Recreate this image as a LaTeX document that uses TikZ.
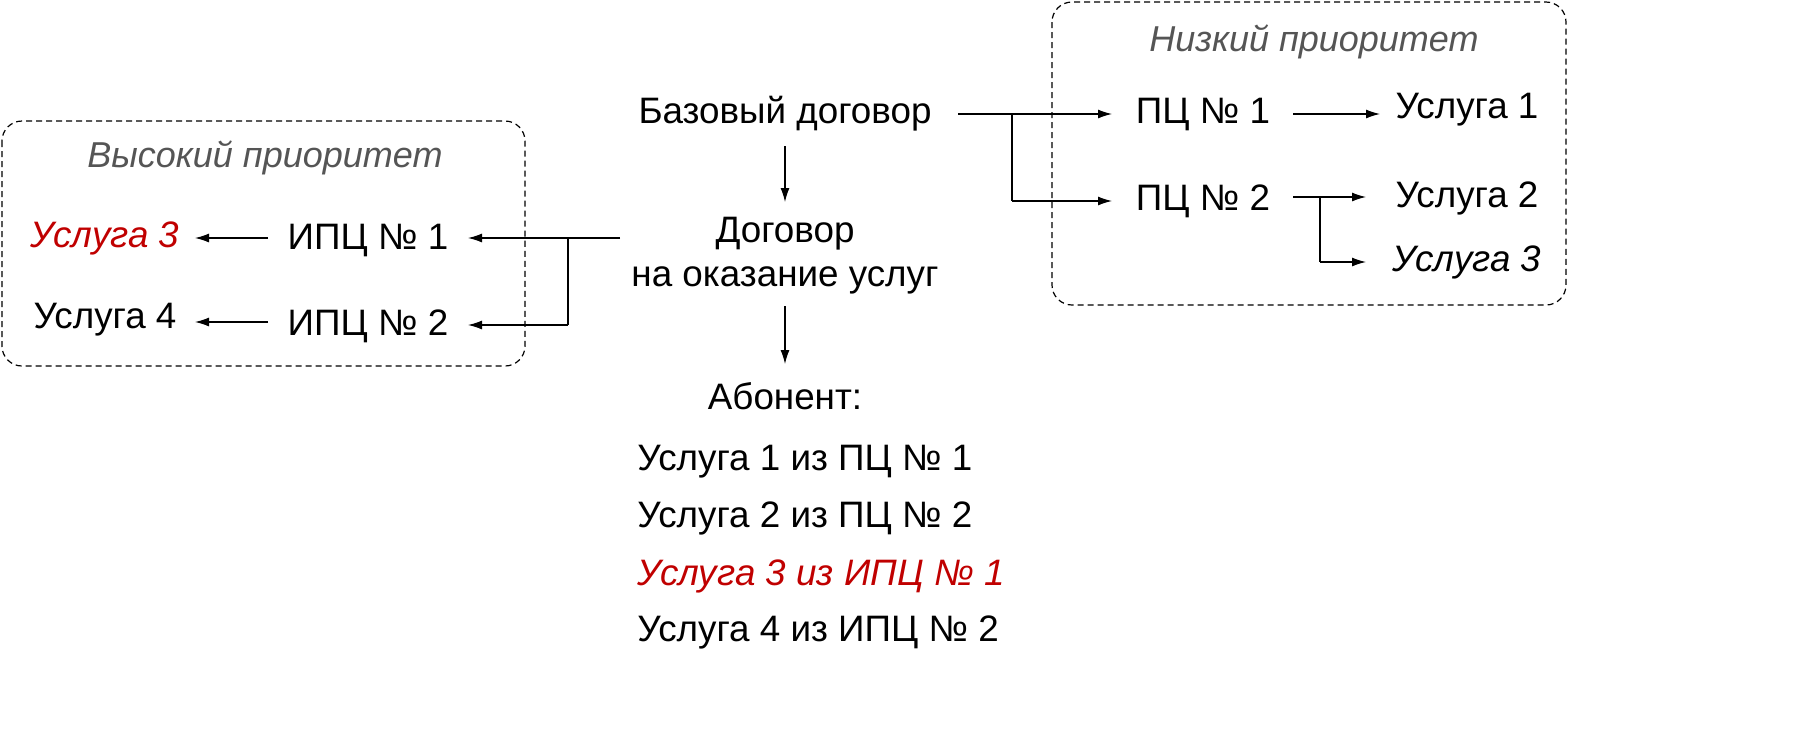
\documentclass[tikz,border=0pt]{standalone}
\usepackage{fontspec}
\setmainfont{Liberation Sans}
\usetikzlibrary{arrows.meta}
\definecolor{myred}{RGB}{192,0,0}
\definecolor{mygray}{RGB}{85,85,85}
\begin{document}
\begin{tikzpicture}[x=0.5pt,y=-0.5pt,
  every node/.style={inner sep=0pt,font=\fontsize{18.4}{21}\selectfont},
  arr/.style={line width=0.6pt,-{Latex[length=7pt,width=4.5pt]}},
  ln/.style={line width=0.6pt},
  grp/.style={draw,dashed,line width=0.6pt,rounded corners=10pt,dash pattern=on 3pt off 2pt},
  ttl/.style={font=\fontsize{18}{21}\selectfont\itshape,text=mygray}]
\useasboundingbox (0,0) rectangle (1798,751);
\draw[grp] (2,121) rectangle (525,366);
\draw[grp] (1052,2) rectangle (1566,305);
\node[ttl] (hp) at (265,158) {Высокий приоритет};
\node[ttl] (lp) at (1314,42) {Низкий приоритет};

\node (base) at (785,114) {Базовый договор};
\node[align=center,font=\fontsize{18.4}{22}\selectfont] (dog) at (785,256) {Договор\\на оказание услуг};
\node (ab) at (785,396) {Абонент:};
\node[anchor=west] (a1) at (637,462) {Услуга 1 из ПЦ № 1};
\node[anchor=west] (a2) at (637,518) {Услуга 2 из ПЦ № 2};
\node[anchor=west,text=myred,font=\fontsize{18.4}{21}\selectfont\itshape] (a3) at (637,576) {Услуга 3 из ИПЦ № 1};
\node[anchor=west] (a4) at (637,632) {Услуга 4 из ИПЦ № 2};

\node (ipc1) at (368,240) {ИПЦ № 1};
\node (ipc2) at (368,326) {ИПЦ № 2};
\node[text=myred,font=\fontsize{18.4}{21}\selectfont\itshape] (u3l) at (105,238) {Услуга 3};
\node (u4) at (105,320) {Услуга 4};

\node (pc1) at (1203,114) {ПЦ № 1};
\node (pc2) at (1203,201) {ПЦ № 2};
\node (u1) at (1467,110) {Услуга 1};
\node (u2) at (1467,198) {Услуга 2};
\node[font=\fontsize{18.4}{21}\selectfont\itshape] (u3r) at (1467,262) {Услуга 3};

\draw[arr] (785,146) -- (785,202);
\draw[arr] (785,306) -- (785,364);

\draw[arr] (620,238) -- (468,238);
\draw[ln] (568,238) -- (568,325);
\draw[arr] (568,325) -- (468,325);
\draw[arr] (268,238) -- (195,238);
\draw[arr] (268,322) -- (195,322);

\draw[arr] (958,114) -- (1112,114);
\draw[ln] (1012,114) -- (1012,201);
\draw[arr] (1012,201) -- (1112,201);
\draw[arr] (1293,114) -- (1380,114);
\draw[arr] (1293,197) -- (1366,197);
\draw[ln] (1320,197) -- (1320,262);
\draw[arr] (1320,262) -- (1366,262);
\end{tikzpicture}
\end{document}
